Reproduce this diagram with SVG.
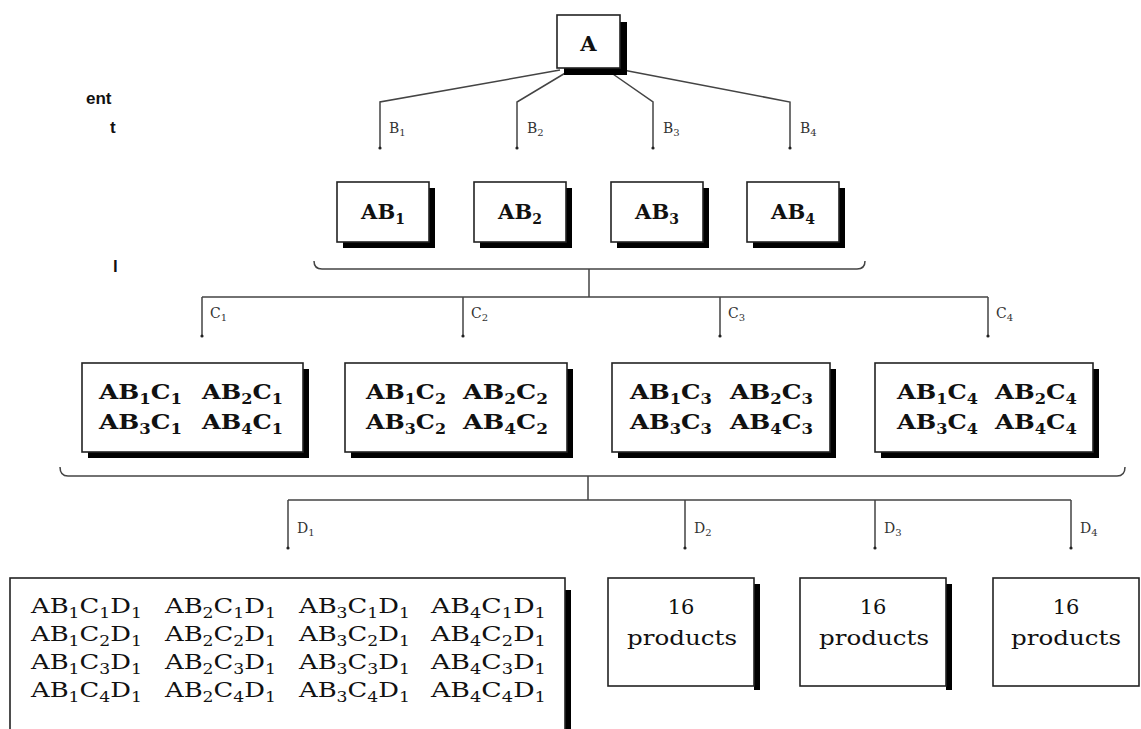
<svg xmlns="http://www.w3.org/2000/svg" width="1141" height="729" viewBox="0 0 1141 729">
<style>
.box{fill:#fff;stroke:#222;stroke-width:1.6}
.sh{fill:#000}
.ln{fill:none;stroke:#444;stroke-width:1.5}
.dot{fill:#222}
.sb{font-family:"DejaVu Serif",serif;font-weight:bold;font-size:21px;fill:#111}
.rg{font-family:"DejaVu Serif",serif;font-size:21px;fill:#111}
.lbl{font-family:"DejaVu Serif",serif;font-size:14px;fill:#333}
.s{font-size:14px}
.ls{font-size:10px}
.side{font-family:"Liberation Sans",sans-serif;font-weight:bold;font-size:17px;fill:#111}
</style>
<rect width="1141" height="729" fill="#fff"/>

<g id="side-text">
<text class="side" x="86" y="104">ent</text>
<text class="side" x="110" y="133">t</text>
<text class="side" x="113" y="272">l</text>
</g>

<g id="connectors">
<polyline class="ln" points="560,70 380,102 380,148"/>
<polyline class="ln" points="567,72 517,102 517,148"/>
<polyline class="ln" points="610,72 653,102 653,148"/>
<polyline class="ln" points="623,70 790,102 790,148"/>
<circle class="dot" cx="380" cy="148" r="1.6"/><circle class="dot" cx="517" cy="148" r="1.6"/><circle class="dot" cx="653" cy="148" r="1.6"/><circle class="dot" cx="790" cy="148" r="1.6"/>
<text class="lbl" x="389" y="133">B<tspan class="ls" dy="3">1</tspan></text>
<text class="lbl" x="527" y="133">B<tspan class="ls" dy="3">2</tspan></text>
<text class="lbl" x="663" y="133">B<tspan class="ls" dy="3">3</tspan></text>
<text class="lbl" x="800" y="133">B<tspan class="ls" dy="3">4</tspan></text>

<path class="ln" d="M314,261 Q314,269 322,269 L857,269 Q865,269 865,261"/>
<path class="ln" d="M589,269 V297 M202,297 H988 M202,297 V336 M463,297 V336 M720,297 V336 M988,297 V336"/>
<circle class="dot" cx="202" cy="336" r="1.6"/><circle class="dot" cx="463" cy="336" r="1.6"/><circle class="dot" cx="720" cy="336" r="1.6"/><circle class="dot" cx="988" cy="336" r="1.6"/>
<text class="lbl" x="210" y="318">C<tspan class="ls" dy="3">1</tspan></text>
<text class="lbl" x="471" y="318">C<tspan class="ls" dy="3">2</tspan></text>
<text class="lbl" x="728" y="318">C<tspan class="ls" dy="3">3</tspan></text>
<text class="lbl" x="996" y="318">C<tspan class="ls" dy="3">4</tspan></text>

<path class="ln" d="M60,467 Q60,476 68,476 L1117,476 Q1125,476 1125,467"/>
<path class="ln" d="M588,476 V500 M288,500 H1071 M288,500 V548 M685,500 V548 M875,500 V548 M1071,500 V548"/>
<circle class="dot" cx="288" cy="548" r="1.6"/><circle class="dot" cx="685" cy="548" r="1.6"/><circle class="dot" cx="875" cy="548" r="1.6"/><circle class="dot" cx="1071" cy="548" r="1.6"/>
<text class="lbl" x="297" y="533">D<tspan class="ls" dy="3">1</tspan></text>
<text class="lbl" x="694" y="533">D<tspan class="ls" dy="3">2</tspan></text>
<text class="lbl" x="884" y="533">D<tspan class="ls" dy="3">3</tspan></text>
<text class="lbl" x="1080" y="533">D<tspan class="ls" dy="3">4</tspan></text>
</g>

<g id="node-A">
<rect class="sh" x="564" y="22" width="63" height="53"/>
<rect class="box" x="557" y="15" width="63" height="53"/>
<text class="sb" x="588.5" y="51" text-anchor="middle" font-size="22">A</text>
</g>

<g id="node-AB1">
<rect class="sh" x="343" y="188" width="92" height="60"/>
<rect class="box" x="337" y="182" width="92" height="60"/>
<text class="sb" x="383" y="219" text-anchor="middle">AB<tspan class="s" dy="5">1</tspan></text>
</g>
<g id="node-AB2">
<rect class="sh" x="480" y="188" width="92" height="60"/>
<rect class="box" x="474" y="182" width="92" height="60"/>
<text class="sb" x="520" y="219" text-anchor="middle">AB<tspan class="s" dy="5">2</tspan></text>
</g>
<g id="node-AB3">
<rect class="sh" x="617" y="188" width="92" height="60"/>
<rect class="box" x="611" y="182" width="92" height="60"/>
<text class="sb" x="657" y="219" text-anchor="middle">AB<tspan class="s" dy="5">3</tspan></text>
</g>
<g id="node-AB4">
<rect class="sh" x="753" y="188" width="92" height="60"/>
<rect class="box" x="747" y="182" width="92" height="60"/>
<text class="sb" x="793" y="219" text-anchor="middle">AB<tspan class="s" dy="5">4</tspan></text>
</g>

<g id="node-C1">
<rect class="sh" x="88" y="369" width="221" height="89"/>
<rect class="box" x="82" y="363" width="221" height="89"/>
<text class="sb" x="99" y="399" textLength="83" lengthAdjust="spacingAndGlyphs">AB<tspan class="s" dy="5">1</tspan><tspan dy="-5">C</tspan><tspan class="s" dy="5">1</tspan></text>
<text class="sb" x="202" y="399" textLength="81" lengthAdjust="spacingAndGlyphs">AB<tspan class="s" dy="5">2</tspan><tspan dy="-5">C</tspan><tspan class="s" dy="5">1</tspan></text>
<text class="sb" x="99" y="429" textLength="83" lengthAdjust="spacingAndGlyphs">AB<tspan class="s" dy="5">3</tspan><tspan dy="-5">C</tspan><tspan class="s" dy="5">1</tspan></text>
<text class="sb" x="202" y="429" textLength="81" lengthAdjust="spacingAndGlyphs">AB<tspan class="s" dy="5">4</tspan><tspan dy="-5">C</tspan><tspan class="s" dy="5">1</tspan></text>
</g>
<g id="node-C2">
<rect class="sh" x="351" y="369" width="222" height="89"/>
<rect class="box" x="345" y="363" width="222" height="89"/>
<text class="sb" x="366" y="399" textLength="80" lengthAdjust="spacingAndGlyphs">AB<tspan class="s" dy="5">1</tspan><tspan dy="-5">C</tspan><tspan class="s" dy="5">2</tspan></text>
<text class="sb" x="463" y="399" textLength="85" lengthAdjust="spacingAndGlyphs">AB<tspan class="s" dy="5">2</tspan><tspan dy="-5">C</tspan><tspan class="s" dy="5">2</tspan></text>
<text class="sb" x="366" y="429" textLength="80" lengthAdjust="spacingAndGlyphs">AB<tspan class="s" dy="5">3</tspan><tspan dy="-5">C</tspan><tspan class="s" dy="5">2</tspan></text>
<text class="sb" x="463" y="429" textLength="85" lengthAdjust="spacingAndGlyphs">AB<tspan class="s" dy="5">4</tspan><tspan dy="-5">C</tspan><tspan class="s" dy="5">2</tspan></text>
</g>
<g id="node-C3">
<rect class="sh" x="618" y="369" width="218" height="89"/>
<rect class="box" x="612" y="363" width="218" height="89"/>
<text class="sb" x="630" y="399" textLength="82" lengthAdjust="spacingAndGlyphs">AB<tspan class="s" dy="5">1</tspan><tspan dy="-5">C</tspan><tspan class="s" dy="5">3</tspan></text>
<text class="sb" x="730" y="399" textLength="83" lengthAdjust="spacingAndGlyphs">AB<tspan class="s" dy="5">2</tspan><tspan dy="-5">C</tspan><tspan class="s" dy="5">3</tspan></text>
<text class="sb" x="630" y="429" textLength="82" lengthAdjust="spacingAndGlyphs">AB<tspan class="s" dy="5">3</tspan><tspan dy="-5">C</tspan><tspan class="s" dy="5">3</tspan></text>
<text class="sb" x="730" y="429" textLength="83" lengthAdjust="spacingAndGlyphs">AB<tspan class="s" dy="5">4</tspan><tspan dy="-5">C</tspan><tspan class="s" dy="5">3</tspan></text>
</g>
<g id="node-C4">
<rect class="sh" x="881" y="369" width="218" height="89"/>
<rect class="box" x="875" y="363" width="218" height="89"/>
<text class="sb" x="897" y="399" textLength="81" lengthAdjust="spacingAndGlyphs">AB<tspan class="s" dy="5">1</tspan><tspan dy="-5">C</tspan><tspan class="s" dy="5">4</tspan></text>
<text class="sb" x="995" y="399" textLength="82" lengthAdjust="spacingAndGlyphs">AB<tspan class="s" dy="5">2</tspan><tspan dy="-5">C</tspan><tspan class="s" dy="5">4</tspan></text>
<text class="sb" x="897" y="429" textLength="81" lengthAdjust="spacingAndGlyphs">AB<tspan class="s" dy="5">3</tspan><tspan dy="-5">C</tspan><tspan class="s" dy="5">4</tspan></text>
<text class="sb" x="995" y="429" textLength="82" lengthAdjust="spacingAndGlyphs">AB<tspan class="s" dy="5">4</tspan><tspan dy="-5">C</tspan><tspan class="s" dy="5">4</tspan></text>
</g>

<g id="node-D1">
<rect class="sh" x="565" y="590" width="6" height="139"/>
<rect class="box" x="10" y="578" width="555" height="200"/>
<g class="rg">
<text x="31" y="613" textLength="111" lengthAdjust="spacingAndGlyphs">AB<tspan class="s" dy="5">1</tspan><tspan dy="-5">C</tspan><tspan class="s" dy="5">1</tspan><tspan dy="-5">D</tspan><tspan class="s" dy="5">1</tspan></text>
<text x="165" y="613" textLength="111" lengthAdjust="spacingAndGlyphs">AB<tspan class="s" dy="5">2</tspan><tspan dy="-5">C</tspan><tspan class="s" dy="5">1</tspan><tspan dy="-5">D</tspan><tspan class="s" dy="5">1</tspan></text>
<text x="299" y="613" textLength="111" lengthAdjust="spacingAndGlyphs">AB<tspan class="s" dy="5">3</tspan><tspan dy="-5">C</tspan><tspan class="s" dy="5">1</tspan><tspan dy="-5">D</tspan><tspan class="s" dy="5">1</tspan></text>
<text x="431" y="613" textLength="115" lengthAdjust="spacingAndGlyphs">AB<tspan class="s" dy="5">4</tspan><tspan dy="-5">C</tspan><tspan class="s" dy="5">1</tspan><tspan dy="-5">D</tspan><tspan class="s" dy="5">1</tspan></text>
<text x="31" y="641" textLength="111" lengthAdjust="spacingAndGlyphs">AB<tspan class="s" dy="5">1</tspan><tspan dy="-5">C</tspan><tspan class="s" dy="5">2</tspan><tspan dy="-5">D</tspan><tspan class="s" dy="5">1</tspan></text>
<text x="165" y="641" textLength="111" lengthAdjust="spacingAndGlyphs">AB<tspan class="s" dy="5">2</tspan><tspan dy="-5">C</tspan><tspan class="s" dy="5">2</tspan><tspan dy="-5">D</tspan><tspan class="s" dy="5">1</tspan></text>
<text x="299" y="641" textLength="111" lengthAdjust="spacingAndGlyphs">AB<tspan class="s" dy="5">3</tspan><tspan dy="-5">C</tspan><tspan class="s" dy="5">2</tspan><tspan dy="-5">D</tspan><tspan class="s" dy="5">1</tspan></text>
<text x="431" y="641" textLength="115" lengthAdjust="spacingAndGlyphs">AB<tspan class="s" dy="5">4</tspan><tspan dy="-5">C</tspan><tspan class="s" dy="5">2</tspan><tspan dy="-5">D</tspan><tspan class="s" dy="5">1</tspan></text>
<text x="31" y="669" textLength="111" lengthAdjust="spacingAndGlyphs">AB<tspan class="s" dy="5">1</tspan><tspan dy="-5">C</tspan><tspan class="s" dy="5">3</tspan><tspan dy="-5">D</tspan><tspan class="s" dy="5">1</tspan></text>
<text x="165" y="669" textLength="111" lengthAdjust="spacingAndGlyphs">AB<tspan class="s" dy="5">2</tspan><tspan dy="-5">C</tspan><tspan class="s" dy="5">3</tspan><tspan dy="-5">D</tspan><tspan class="s" dy="5">1</tspan></text>
<text x="299" y="669" textLength="111" lengthAdjust="spacingAndGlyphs">AB<tspan class="s" dy="5">3</tspan><tspan dy="-5">C</tspan><tspan class="s" dy="5">3</tspan><tspan dy="-5">D</tspan><tspan class="s" dy="5">1</tspan></text>
<text x="431" y="669" textLength="115" lengthAdjust="spacingAndGlyphs">AB<tspan class="s" dy="5">4</tspan><tspan dy="-5">C</tspan><tspan class="s" dy="5">3</tspan><tspan dy="-5">D</tspan><tspan class="s" dy="5">1</tspan></text>
<text x="31" y="697" textLength="111" lengthAdjust="spacingAndGlyphs">AB<tspan class="s" dy="5">1</tspan><tspan dy="-5">C</tspan><tspan class="s" dy="5">4</tspan><tspan dy="-5">D</tspan><tspan class="s" dy="5">1</tspan></text>
<text x="165" y="697" textLength="111" lengthAdjust="spacingAndGlyphs">AB<tspan class="s" dy="5">2</tspan><tspan dy="-5">C</tspan><tspan class="s" dy="5">4</tspan><tspan dy="-5">D</tspan><tspan class="s" dy="5">1</tspan></text>
<text x="299" y="697" textLength="111" lengthAdjust="spacingAndGlyphs">AB<tspan class="s" dy="5">3</tspan><tspan dy="-5">C</tspan><tspan class="s" dy="5">4</tspan><tspan dy="-5">D</tspan><tspan class="s" dy="5">1</tspan></text>
<text x="431" y="697" textLength="115" lengthAdjust="spacingAndGlyphs">AB<tspan class="s" dy="5">4</tspan><tspan dy="-5">C</tspan><tspan class="s" dy="5">4</tspan><tspan dy="-5">D</tspan><tspan class="s" dy="5">1</tspan></text>
</g>
</g>

<g id="node-D2">
<rect class="sh" x="754" y="584" width="6" height="106"/>
<rect class="box" x="608" y="578" width="146" height="108"/>
<text class="rg" x="681" y="614" text-anchor="middle">16</text>
<text class="rg" x="627" y="645" textLength="110" lengthAdjust="spacingAndGlyphs">products</text>
</g>
<g id="node-D3">
<rect class="sh" x="946" y="584" width="6" height="106"/>
<rect class="box" x="800" y="578" width="146" height="108"/>
<text class="rg" x="873" y="614" text-anchor="middle">16</text>
<text class="rg" x="819" y="645" textLength="110" lengthAdjust="spacingAndGlyphs">products</text>
</g>
<g id="node-D4">
<rect class="box" x="993" y="578" width="146" height="108"/>
<text class="rg" x="1066" y="614" text-anchor="middle">16</text>
<text class="rg" x="1011" y="645" textLength="110" lengthAdjust="spacingAndGlyphs">products</text>
</g>
</svg>
